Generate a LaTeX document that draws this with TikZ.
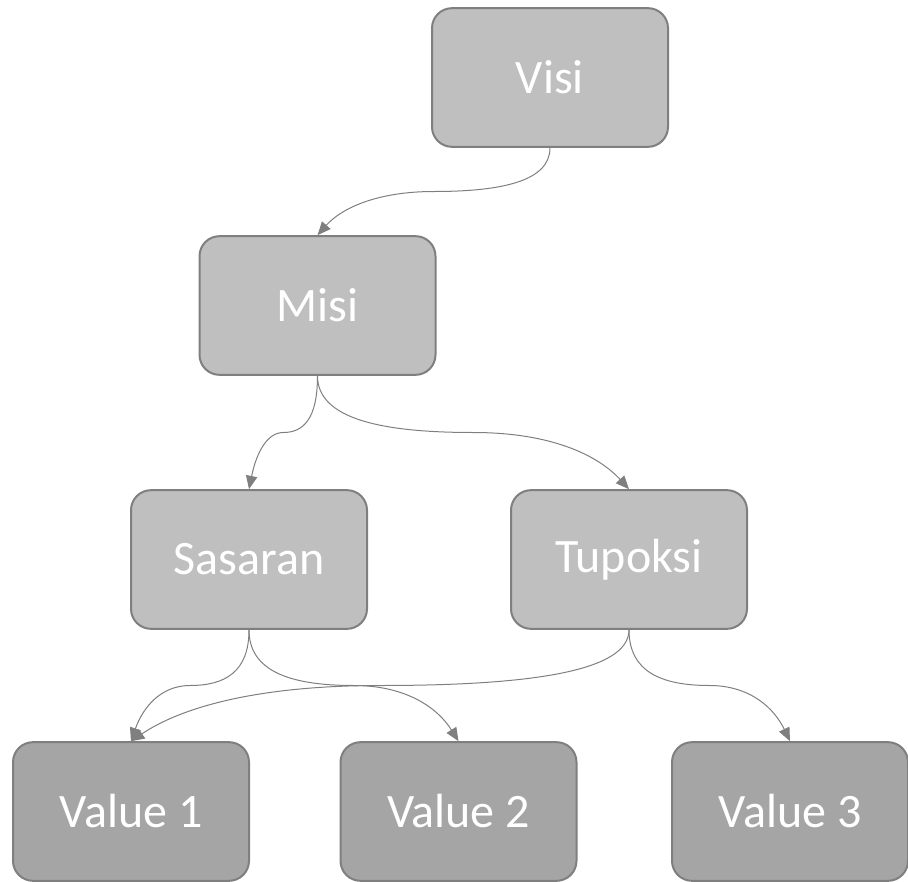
\documentclass[tikz,border=0pt]{standalone}
\usepackage{fontspec}
\setmainfont{Carlito}
\usetikzlibrary{arrows.meta,calc}
\definecolor{boxlight}{HTML}{BFBFBF}
\definecolor{boxdark}{HTML}{A5A5A5}
\definecolor{edgegray}{HTML}{7F7F7F}
\newcommand\linkcurve[2]{%
  \draw[conn] let \p1=(#1.south), \p2=(#2.north) in
    (#1.south) .. controls (\x1,{0.625*\y1+0.375*\y2}) and ({0.8*\x1+0.2*\x2},{0.5*\y1+0.5*\y2}) ..
    ({0.5*\x1+0.5*\x2},{0.5*\y1+0.5*\y2}) .. controls ({0.25*\x1+0.75*\x2},{0.5*\y1+0.5*\y2}) and ({0.1*\x1+0.9*\x2},{0.3*\y1+0.7*\y2}) .. (#2.north);}
\begin{document}
\begin{tikzpicture}[x=0.75pt,y=0.75pt,
  box/.style={draw=edgegray,line width=1.5pt,rounded corners=15pt,minimum width=177pt,minimum height=104pt,text=white,font=\fontsize{36}{40}\selectfont,inner sep=0pt},
  lvla/.style={box,fill=boxlight},
  lvlb/.style={box,fill=boxdark},
  conn/.style={draw=edgegray,line width=0.75pt,-{Triangle[length=10pt,width=8.5pt]}}]
\useasboundingbox (0,0) rectangle (908,-882);
\node[lvla] (visi) at (550,-77.5) {Visi};
\node[lvla] (misi) at (317.5,-305.5) {Misi};
\node[lvla] (sasaran) at (249,-559.5) {Sasaran};
\node[lvla] (tupoksi) at (629,-559.5) {Tupoksi};
\node[lvlb] (v1) at (131,-811.5) {Value 1};
\node[lvlb] (v2) at (458.5,-811.5) {Value 2};
\node[lvlb] (v3) at (790,-811.5) {Value 3};
\linkcurve{visi}{misi}
\linkcurve{misi}{sasaran}
\linkcurve{misi}{tupoksi}
\linkcurve{sasaran}{v1}
\linkcurve{sasaran}{v2}
\linkcurve{tupoksi}{v1}
\linkcurve{tupoksi}{v3}
\end{tikzpicture}
\end{document}
